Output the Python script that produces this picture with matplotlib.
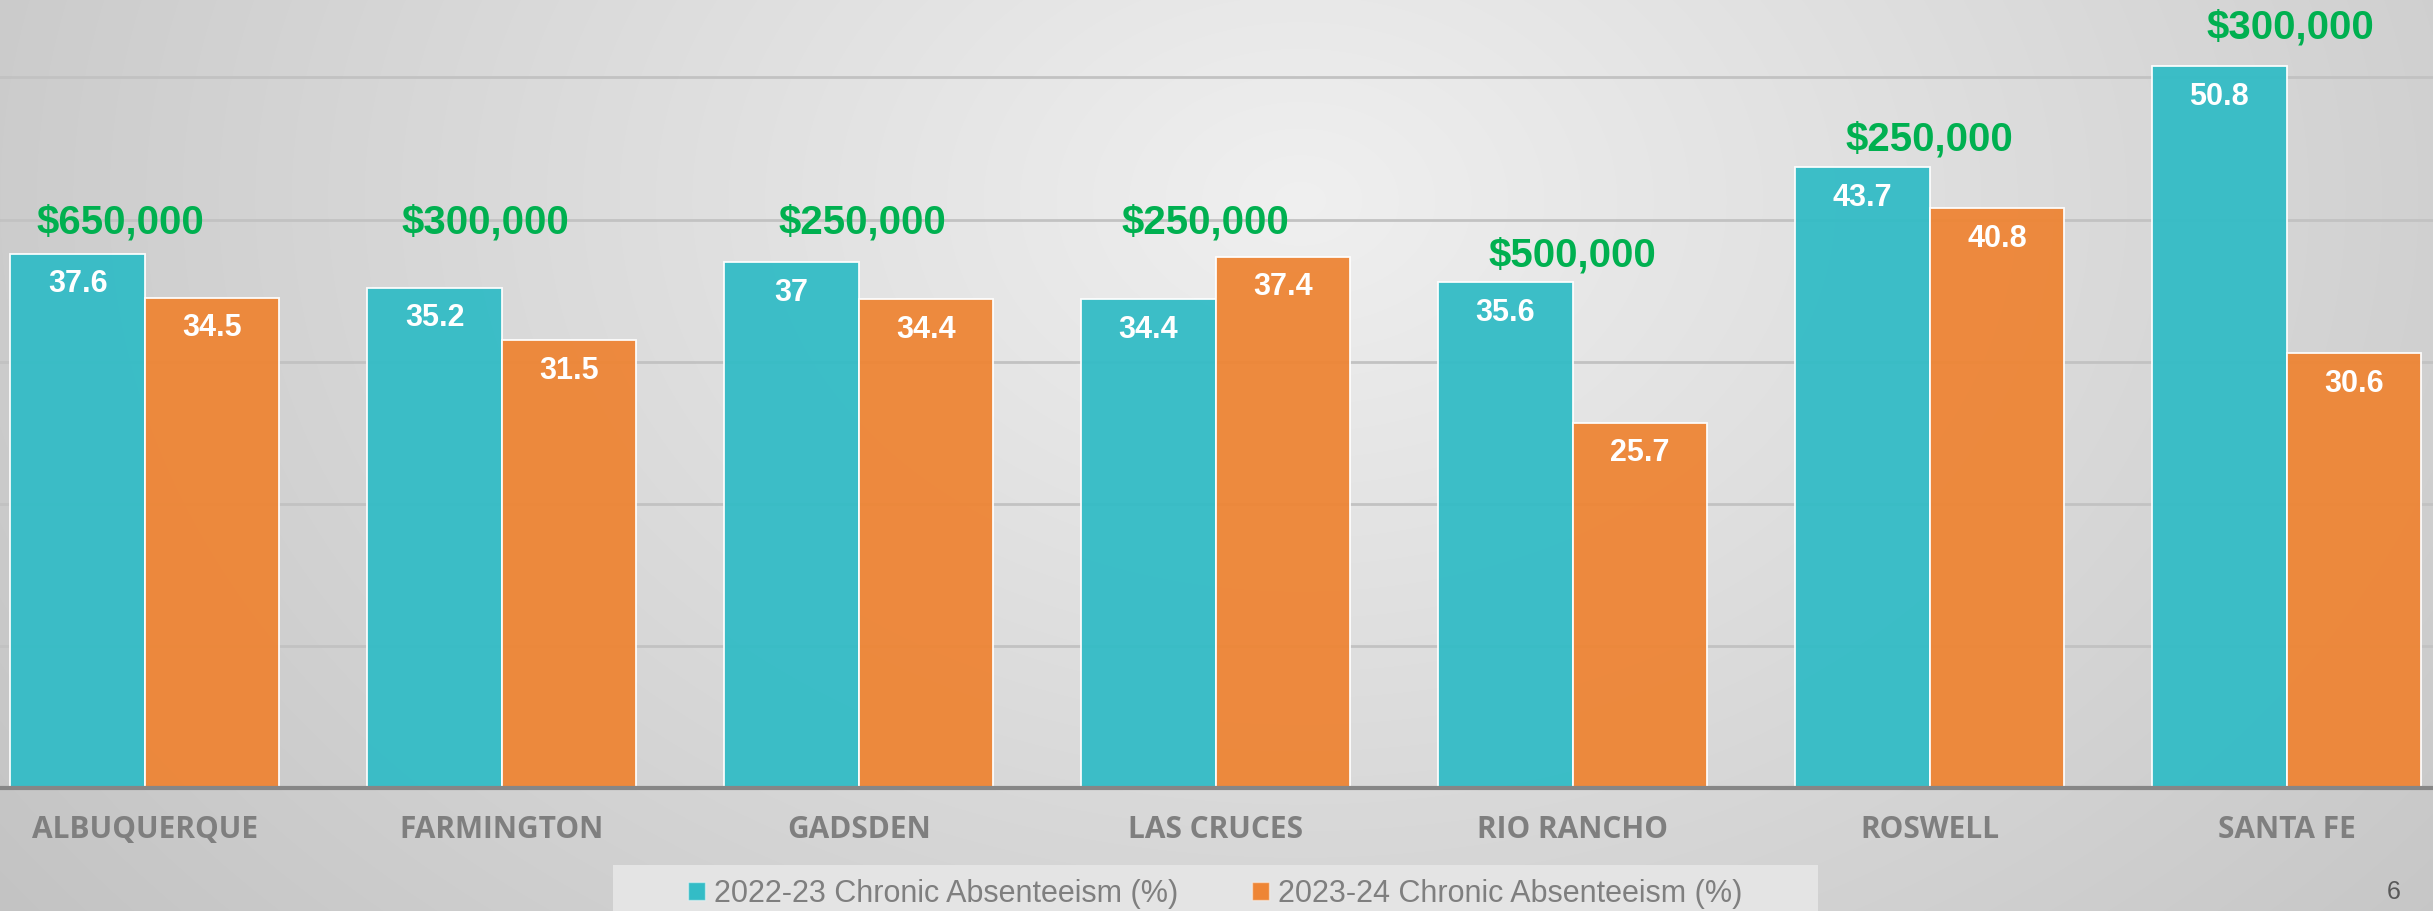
import numpy as np
import matplotlib
matplotlib.use("Agg")
import matplotlib.pyplot as plt
from matplotlib.patches import Rectangle, Patch

# data
districts = ["ALBUQUERQUE", "FARMINGTON", "GADSDEN", "LAS CRUCES",
             "RIO RANCHO", "ROSWELL", "SANTA FE"]
absent_2223 = [37.6, 35.2, 37, 34.4, 35.6, 43.7, 50.8]
absent_2324 = [34.5, 31.5, 34.4, 37.4, 25.7, 40.8, 30.6]
funding = ["$650,000", "$300,000", "$250,000", "$250,000",
           "$500,000", "$250,000", "$300,000"]
series_names = ["2022-23 Chronic Absenteeism (%)",
                "2023-24 Chronic Absenteeism (%)"]

# where the funding call-outs sit (data units)
funding_x_shift = [-0.07, -0.045, 0.01, -0.03, 0.0, 0.0, 0.01]
funding_y = [39.8, 39.8, 39.8, 39.8, 37.5, 45.6, 53.5]

teal = "#33bcc6"
orange = "#ee8535"
green = "#00b050"
grey_txt = "#7f7f7f"
edge = (1, 1, 1, 0.45)

fig = plt.figure(figsize=(24.33, 9.11), dpi=100)

# gradient background
bg = fig.add_axes([0, 0, 1, 1], zorder=-10)
yy, xx = np.mgrid[0:911, 0:2433]
r = np.sqrt(((xx - 1300) / 1300.0) ** 2 + ((yy - 200) / 950.0) ** 2)
shade = np.clip(0.94 - 0.14 * r, 0, 1)
bg.imshow(np.dstack([shade, shade, shade]), aspect="auto", extent=[0, 1, 0, 1])
bg.set_axis_off()

ax = fig.add_axes([0, 0.135, 1, 0.865])
ax.set_facecolor("none")

x = np.arange(len(districts))
w = 0.3766
b1 = ax.bar(x - w / 2, absent_2223, w, color=teal, alpha=0.95,
            edgecolor=edge, linewidth=1.3, zorder=2)
b2 = ax.bar(x + w / 2, absent_2324, w, color=orange, alpha=0.95,
            edgecolor=edge, linewidth=1.3, zorder=2)

for bars in (b1, b2):
    for rect in bars:
        h = rect.get_height()
        ax.annotate("{:g}".format(h), (rect.get_x() + rect.get_width() / 2, h),
                    xytext=(0, -22), textcoords="offset points",
                    ha="center", va="center", color="white",
                    fontsize=22, fontweight="bold", family="Liberation Sans",
                    zorder=3)

for i, txt in enumerate(funding):
    ax.text(i + funding_x_shift[i], funding_y[i], txt, ha="center", va="center",
            color=green, fontsize=29, fontweight="bold",
            family="Liberation Sans", zorder=3)

ax.set_xlim(-0.406, 6.41)
ax.set_ylim(0, 55.45)
ax.set_yticks([10, 20, 30, 40, 50])
ax.yaxis.grid(True, color="#c2c2c2", linewidth=2, zorder=0)
ax.set_axisbelow(True)
ax.tick_params(axis="y", left=False, labelleft=False)
for s in ["top", "right", "left"]:
    ax.spines[s].set_visible(False)
ax.spines["bottom"].set_color("#868686")
ax.spines["bottom"].set_linewidth(3)
ax.spines["bottom"].set_zorder(4)

ax.set_xticks(x)
ax.set_xticklabels(districts, fontsize=21.5, fontweight="bold",
                   family="Open Sans", color=grey_txt)
ax.tick_params(axis="x", length=0, pad=30)
for lbl in ax.get_xticklabels():
    lbl.set_va("center")

# legend strip at the bottom
fig.patches.append(Rectangle((613 / 2433, -0.02), (1818 - 613) / 2433, 0.07,
                             transform=fig.transFigure, facecolor="#e4e4e4",
                             edgecolor="none", zorder=0))
handles = [Patch(facecolor=teal, edgecolor=edge),
           Patch(facecolor=orange, edgecolor=edge)]
leg = fig.legend(handles, series_names, loc="center",
                 bbox_to_anchor=(0.4995, 0.0187), ncol=2, frameon=False,
                 prop={"family": "Liberation Sans", "size": 22},
                 handlelength=0.55, handleheight=0.55, handletextpad=0.3,
                 columnspacing=2.4)
for t in leg.get_texts():
    t.set_color(grey_txt)

fig.text(2394 / 2433, (911 - 892) / 911, "6", ha="center", va="center",
         fontsize=18, color="#595959", family="Liberation Sans")

fig.savefig("out.png", dpi=100)
